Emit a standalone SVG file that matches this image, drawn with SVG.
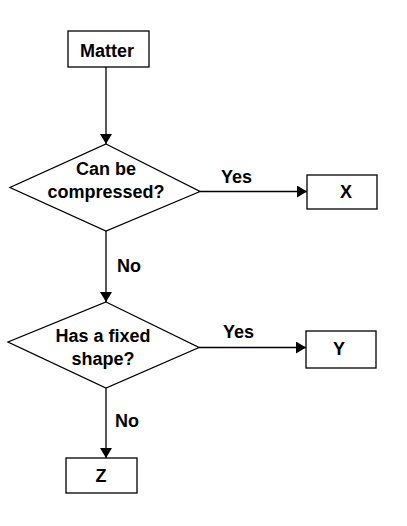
<svg xmlns="http://www.w3.org/2000/svg" width="407" height="526" viewBox="0 0 407 526">
<style>
.s{fill:#fff;stroke:#000;stroke-width:1.3}
.t{font-family:"Liberation Sans",Arial,sans-serif;font-weight:bold;font-size:18px;text-anchor:middle;fill:#000}
.l{font-family:"Liberation Sans",Arial,sans-serif;font-weight:bold;font-size:18px;fill:#000}
.c{fill:none;stroke:#000;stroke-width:1.3}
</style>
<defs>
<marker id="a" markerWidth="10" markerHeight="12" refX="10" refY="6" orient="auto" markerUnits="userSpaceOnUse" viewBox="0 0 10 12">
<path d="M0,0 L10,6 L0,12 z" fill="#000"/>
</marker>
</defs>
<g id="connectors">
<line class="c" x1="106" y1="67" x2="106" y2="144" marker-end="url(#a)"/>
<line class="c" x1="200" y1="191.5" x2="307" y2="191.5" marker-end="url(#a)"/>
<line class="c" x1="106" y1="231" x2="106" y2="302" marker-end="url(#a)"/>
<line class="c" x1="199" y1="347.5" x2="306" y2="347.5" marker-end="url(#a)"/>
<line class="c" x1="106" y1="388" x2="106" y2="458" marker-end="url(#a)"/>
<text class="l" x="221" y="183">Yes</text>
<text class="l" x="117" y="272">No</text>
<text class="l" x="223" y="338">Yes</text>
<text class="l" x="115" y="427">No</text>
</g>
<g id="matter">
<rect class="s" x="68" y="31" width="81" height="36"/>
<text class="t" x="107" y="57">Matter</text>
</g>
<g id="q1">
<polygon class="s" points="106,144 200,191.5 106,231 10,187.5"/>
<text class="t" x="106" y="175">Can be</text>
<text class="t" x="106" y="198">compressed?</text>
</g>
<g id="x">
<rect class="s" x="307" y="175" width="70" height="34"/>
<text class="t" x="346" y="198">X</text>
</g>
<g id="q2">
<polygon class="s" points="106,302 199,347.5 106,388 8,342"/>
<text class="t" x="103" y="342">Has a fixed</text>
<text class="t" x="103" y="365">shape?</text>
</g>
<g id="y">
<rect class="s" x="306" y="331" width="70" height="37"/>
<text class="t" x="339" y="355">Y</text>
</g>
<g id="z">
<rect class="s" x="66" y="458" width="71" height="35"/>
<text class="t" x="101" y="482">Z</text>
</g>
</svg>
